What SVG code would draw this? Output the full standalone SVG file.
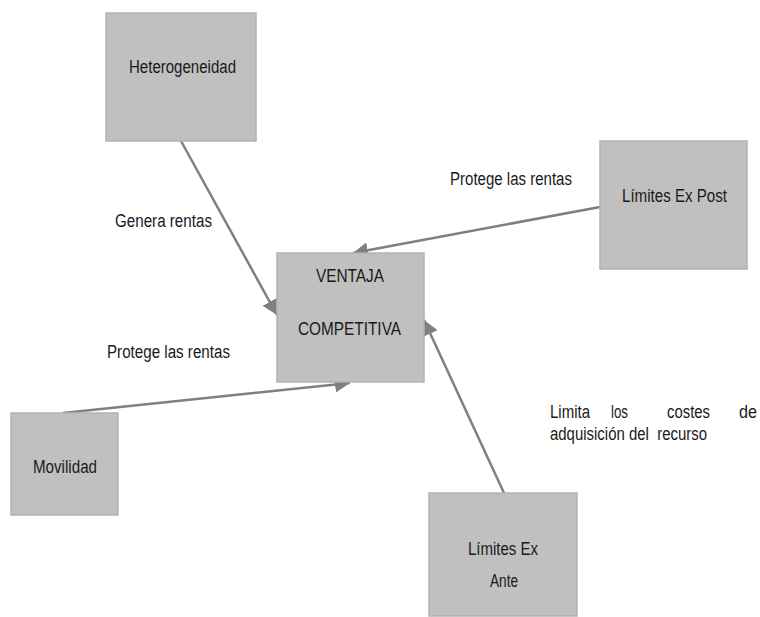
<svg xmlns="http://www.w3.org/2000/svg" width="760" height="617" viewBox="0 0 760 617">
  <style>
    .box { fill: #c0c0c0; stroke: #b2b2b2; stroke-width: 1.5; }
    .lbl { font-family: "Liberation Sans", Arial, sans-serif; font-size: 18px; fill: #1a1a1a; }
    .mid { text-anchor: middle; }
    .edge { stroke: #7f7f7f; stroke-width: 2.5; fill: none; marker-end: url(#head); }
  </style>
  <defs>
    <marker id="head" markerUnits="userSpaceOnUse" markerWidth="16" markerHeight="16" refX="15" refY="8" orient="auto">
      <path d="M0,0 L15,8 L0,16 z" fill="#7f7f7f"/>
    </marker>
  </defs>
  <rect width="760" height="617" fill="#ffffff"/>

  <!-- connectors and their labels; labels are narrowed via textLength -->
  <g id="connectors">
    <line class="edge" x1="181" y1="141" x2="277" y2="315"/>
    <line class="edge" x1="600" y1="207" x2="353" y2="253"/>
    <line class="edge" x1="63" y1="413" x2="350" y2="383"/>
    <line class="edge" x1="504" y1="493" x2="424" y2="320"/>
    <text class="lbl" x="115" y="227" textLength="97" lengthAdjust="spacingAndGlyphs">Genera rentas</text>
    <text class="lbl" x="450" y="185" textLength="122" lengthAdjust="spacingAndGlyphs">Protege las rentas</text>
    <text class="lbl" x="107" y="358" textLength="123" lengthAdjust="spacingAndGlyphs">Protege las rentas</text>
    <text class="lbl" x="550" y="418" textLength="40" lengthAdjust="spacingAndGlyphs">Limita</text>
    <text class="lbl" x="611" y="418" textLength="17" lengthAdjust="spacingAndGlyphs">los</text>
    <text class="lbl" x="667" y="418" textLength="43" lengthAdjust="spacingAndGlyphs">costes</text>
    <text class="lbl" x="739" y="418" textLength="18" lengthAdjust="spacingAndGlyphs">de</text>
    <text class="lbl" x="550" y="440" textLength="157" lengthAdjust="spacingAndGlyphs" xml:space="preserve">adquisición del  recurso</text>
  </g>

  <g id="heterogeneidad">
    <rect class="box" x="106" y="13" width="150" height="128"/>
    <text class="lbl" x="129" y="73" textLength="107" lengthAdjust="spacingAndGlyphs">Heterogeneidad</text>
  </g>

  <g id="ventaja">
    <rect class="box" x="277" y="253" width="147" height="129"/>
    <text class="lbl" x="316" y="282" textLength="68" lengthAdjust="spacingAndGlyphs">VENTAJA</text>
    <text class="lbl" x="298" y="335" textLength="103" lengthAdjust="spacingAndGlyphs">COMPETITIVA</text>
  </g>

  <g id="expost">
    <rect class="box" x="600" y="141" width="147" height="128"/>
    <text class="lbl" x="622" y="202" textLength="105" lengthAdjust="spacingAndGlyphs">Límites Ex Post</text>
  </g>

  <g id="movilidad">
    <rect class="box" x="11" y="413" width="107" height="102"/>
    <text class="lbl" x="33" y="473" textLength="64" lengthAdjust="spacingAndGlyphs">Movilidad</text>
  </g>

  <g id="exante">
    <rect class="box" x="429" y="493" width="148" height="123"/>
    <text class="lbl" x="468" y="555" textLength="70" lengthAdjust="spacingAndGlyphs">Límites Ex</text>
    <text class="lbl" x="490" y="587" textLength="28" lengthAdjust="spacingAndGlyphs">Ante</text>
  </g>
</svg>
